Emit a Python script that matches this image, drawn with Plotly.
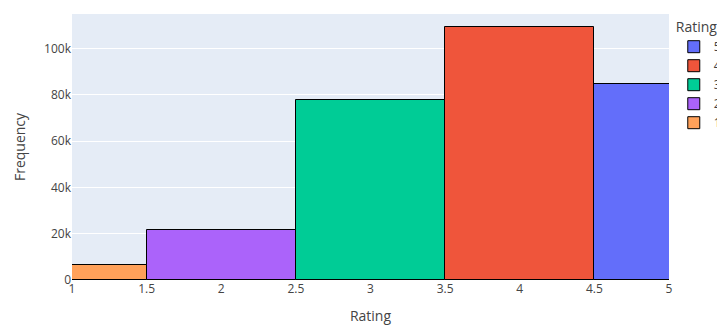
import plotly.graph_objects as go

ratings = [5, 4, 3, 2, 1]
counts = [84700, 109200, 78000, 21600, 6400]
colors = ["#636EFA", "#EF553B", "#00CC96", "#AB63FA", "#FFA15A"]

fig = go.Figure()
for r, c, col in zip(ratings, counts, colors):
    fig.add_trace(go.Bar(
        x=[r], y=[c], name=str(r), width=1,
        marker=dict(color=col, line=dict(color="black", width=1)),
        legendgroup=str(r),
    ))

fig.update_layout(
    template="plotly",
    width=745, height=317,
    font=dict(color="#444"),
    margin=dict(l=64, r=84, t=6, b=45, autoexpand=False),
    barmode="overlay",
    bargap=0,
    legend=dict(title=dict(text="Rating"), traceorder="normal", x=1.008, y=1),
    xaxis=dict(title=dict(text="Rating"), range=[1, 5], dtick=0.5, tick0=1),
    yaxis=dict(title=dict(text="Frequency")),
)
fig.write_html("out.html")
